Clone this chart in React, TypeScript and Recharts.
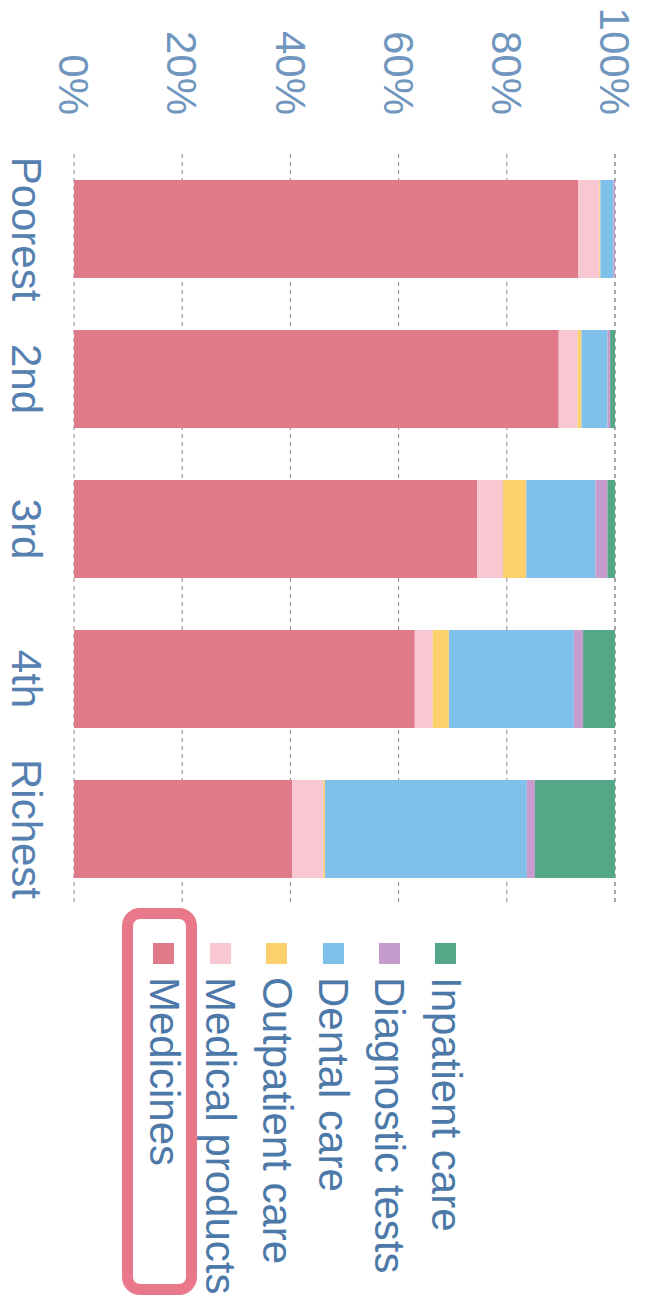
import { BarChart, Bar, XAxis, YAxis, CartesianGrid, Legend } from "recharts";

// the chart is drawn upright and then turned a quarter turn clockwise
const groups = ["Poorest", "2nd", "3rd", "4th", "Richest"];
const medicines = [93.2, 89.6, 74.5, 63.0, 40.3];
const medicalProducts = [3.9, 3.5, 4.8, 3.3, 5.8];
const outpatientCare = [0.2, 0.7, 4.3, 3.0, 0.3];
const dentalCare = [2.4, 4.8, 12.8, 23.1, 37.3];
const diagnosticTests = [0.3, 0.5, 2.2, 1.7, 1.5];
const inpatientCare = [0, 0.9, 1.4, 5.9, 14.8];
const percentTicks = [0, 20, 40, 60, 80, 100];

const series = [
    { key: "medicines", name: "Medicines", color: "#e07a88", values: medicines },
    { key: "medicalProducts", name: "Medical products", color: "#f8c8d2", values: medicalProducts },
    { key: "outpatient", name: "Outpatient care", color: "#fdd06e", values: outpatientCare },
    { key: "dental", name: "Dental care", color: "#80c1ec", values: dentalCare },
    { key: "diagnostic", name: "Diagnostic tests", color: "#c59ccd", values: diagnosticTests },
    { key: "inpatient", name: "Inpatient care", color: "#55a887", values: inpatientCare },
];

const rows = groups.map((g, i) => {
    const row: Record<string, string | number> = { group: g };
    series.forEach((s) => (row[s.key] = s.values[i]));
    return row;
});

const FONT = '"Liberation Sans", Arial, Helvetica, sans-serif';
const order = (name: string) => series.findIndex((s) => s.name === name);

const LegendList = ({ payload }: any) => {
    // top of the list is the top of the stack
    const items = [...(payload || [])].sort((a: any, b: any) => order(b.value) - order(a.value));
    return (
        <div style={{ position: "relative", width: 397, height: 648, fontFamily: FONT }}>
            <div style={{ position: "absolute", top: 174, left: 0 }}>
                {items.map((p: any) => (
                    <div key={p.value} style={{ display: "flex", alignItems: "center", height: 56.4, whiteSpace: "nowrap" }}>
                        <span style={{ display: "inline-block", width: 21, height: 21, background: p.color, marginLeft: 43 }} />
                        <span style={{ marginLeft: 13, fontSize: 42, color: "#4c79a8" }}>{p.value}</span>
                    </div>
                ))}
            </div>
            {/* highlight round Medicines */}
            <div style={{
                position: "absolute", left: 8, top: 451, width: 387, height: 75,
                boxSizing: "border-box", border: "11px solid #e8788a", borderRadius: 18,
            }} />
        </div>
    );
};

export default function App() {
    return (
        <div style={{ position: "absolute", left: 0, top: 0, width: 648, height: 1297, overflow: "hidden", background: "#fff" }}>
            <div style={{
                position: "absolute", left: 0, top: 0, width: 1297, height: 648,
                transformOrigin: "0 0", transform: "translate(648px, 0) rotate(90deg)",
            }}>
                <BarChart width={1297} height={648} data={rows} margin={{ top: 33, right: 393, left: 0, bottom: 0 }}>
                    <CartesianGrid vertical={false} stroke="#8a8a8a" strokeDasharray="4 4" />
                    <XAxis
                        dataKey="group"
                        height={74}
                        axisLine={false}
                        tickLine={false}
                        tickSize={0}
                        tickMargin={32}
                        tick={{ fill: "#5580b0", fontSize: 42, fontFamily: FONT }}
                    />
                    <YAxis
                        type="number"
                        domain={[0, 100]}
                        ticks={percentTicks}
                        tickFormatter={(v) => `${v}%`}
                        width={154}
                        axisLine={false}
                        tickLine={false}
                        tickSize={0}
                        tickMargin={39}
                        tick={{ fill: "#7096bd", fontSize: 42, fontFamily: FONT }}
                    />
                    <Legend
                        layout="vertical"
                        align="center"
                        verticalAlign="middle"
                        content={<LegendList />}
                        wrapperStyle={{ left: 900, top: 0, width: 397, height: 648 }}
                    />
                    {series.map((s) => (
                        <Bar key={s.key} dataKey={s.key} name={s.name} stackId="a" fill={s.color} barSize={98} isAnimationActive={false} />
                    ))}
                </BarChart>
            </div>
        </div>
    );
}
